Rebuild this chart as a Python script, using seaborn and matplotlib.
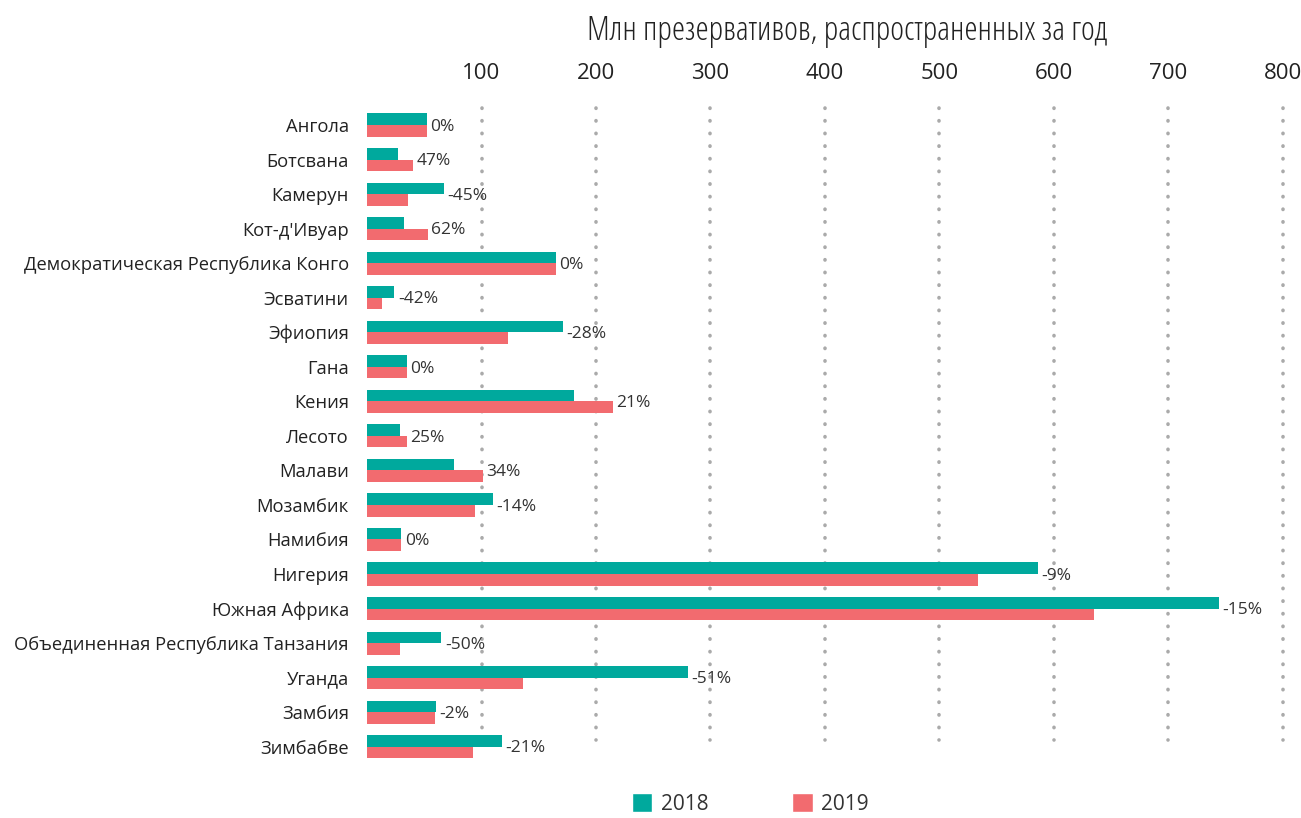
import matplotlib
matplotlib.use('Agg')
import numpy as np
import pandas as pd
import matplotlib.pyplot as plt
from matplotlib.patches import Patch
import seaborn as sns

# data (millions of condoms per year)
countries = ['Ангола', 'Ботсвана', 'Камерун', "Кот-д'Ивуар",
             'Демократическая Республика Конго', 'Эсватини', 'Эфиопия', 'Гана',
             'Кения', 'Лесото', 'Малави', 'Мозамбик', 'Намибия', 'Нигерия',
             'Южная Африка', 'Объединенная Республика Танзания', 'Уганда',
             'Замбия', 'Зимбабве']
vals_2018 = [52, 27, 67, 32, 165, 24, 171, 35, 181, 29, 76, 110, 30, 586,
             744, 65, 280, 60, 118]
vals_2019 = [52, 40, 36, 53, 165, 13, 123, 35, 215, 35, 101, 94, 30, 534,
             635, 29, 136, 59, 93]
pct_labels = ['0%', '47%', '-45%', '62%', '0%', '-42%', '-28%', '0%', '21%',
              '25%', '34%', '-14%', '0%', '-9%', '-15%', '-50%', '-51%',
              '-2%', '-21%']
years = ['2018', '2019']
x_ticks = [100, 200, 300, 400, 500, 600, 700, 800]

teal = '#00A99D'
salmon = '#F26B6F'

df = pd.DataFrame({
    'country': countries * 2,
    'year': [years[0]] * len(countries) + [years[1]] * len(countries),
    'value': vals_2018 + vals_2019,
})

sns.set_theme(style='white')
plt.rcParams['font.family'] = ['Open Sans', 'DejaVu Sans']

fig = plt.figure(figsize=(13.01, 8.18), dpi=100)
ax = fig.add_axes([0.2821, 0.066, 0.7040, 0.8023])

sns.barplot(data=df, y='country', x='value', hue='year', orient='h',
            palette=[teal, salmon], saturation=1, width=0.67, linewidth=0,
            ax=ax, legend=False, order=countries, hue_order=years)

ax.set_xlim(0, 800)
ax.set_ylim(len(countries) - 0.5, -0.5)

# percent labels right of the longer bar
for i, lab in enumerate(pct_labels):
    xend = max(vals_2018[i], vals_2019[i])
    ax.text(xend + 3, i + 0.05, lab, va='center', ha='left',
            fontsize=12.5, color='#333333')

# dotted gridlines (they stop a little above the last bar pair)
ax.vlines(x_ticks, -0.5, len(countries) - 1.2, colors='#aaaaaa',
          linestyles=(0, (0.1, 3.4)), linewidth=2.6, zorder=0,
          capstyle='round', clip_on=False)

ax.xaxis.tick_top()
ax.set_xticks(x_ticks)
ax.set_xticklabels([str(t) for t in x_ticks], fontsize=16, color='#222222')
ax.tick_params(axis='x', length=0, pad=17)
ax.tick_params(axis='y', length=0, pad=13, labelsize=13.2, labelcolor='#222222')
ax.set_xlabel('')
ax.set_ylabel('')
for s in ax.spines.values():
    s.set_visible(False)

fig.text(847 / 1301, 1 - 31 / 818, 'Млн презервативов, распространенных за год',
         ha='center', va='center', fontsize=24, color='#222222',
         fontstretch='condensed')

handles = [Patch(facecolor=teal, label=years[0]),
           Patch(facecolor=salmon, label=years[1])]
fig.legend(handles=handles, ncol=2, loc='center', frameon=False,
           bbox_to_anchor=(750 / 1301, 1 - 804 / 818), fontsize=15,
           handlelength=1.0, handleheight=1.0, columnspacing=4.0,
           handletextpad=0.4, labelcolor='#333333')

fig.savefig('out.png', dpi=100)
